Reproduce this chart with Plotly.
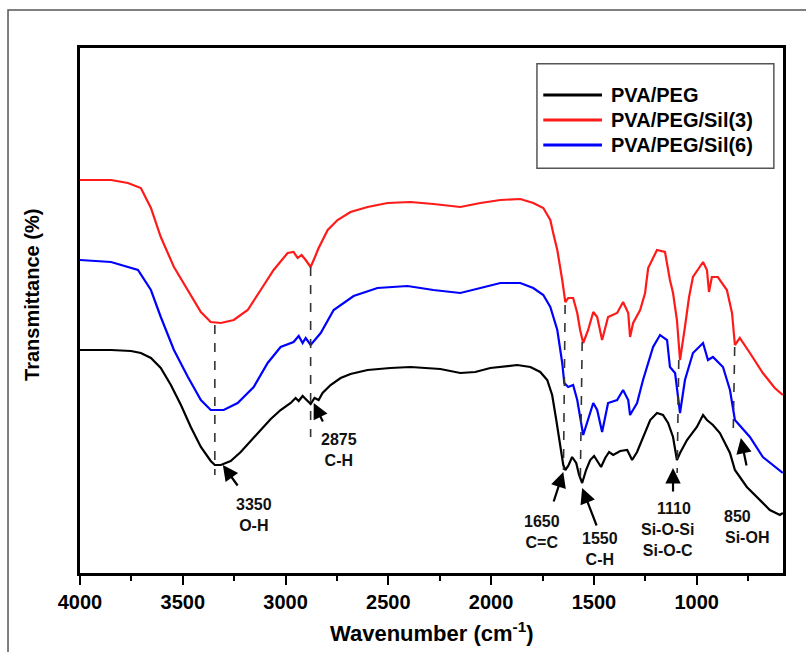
import plotly.graph_objects as go

# ---------------- data ----------------
wn_pva_peg = [4000, 3849, 3752, 3704, 3655, 3607, 3558, 3509, 3461, 3412, 3364, 3344, 3315, 3267, 3218,
              3169, 3121, 3072, 3024, 2975, 2951, 2936, 2917, 2897, 2878, 2859, 2839, 2820, 2781, 2732,
              2684, 2601, 2490, 2392, 2247, 2150, 2077, 2004, 1873, 1809, 1761, 1727, 1703, 1683, 1664,
              1649, 1639, 1625, 1606, 1586, 1572, 1557, 1538, 1518, 1499, 1479, 1465, 1445, 1426, 1406,
              1372, 1338, 1314, 1290, 1261, 1226, 1193, 1164, 1139, 1115, 1096, 1081, 1047, 999, 969,
              950, 921, 887, 838, 814, 756, 692, 644, 595, 581]
t_pva_peg = [44.6, 44.6, 44.4, 44.0, 43.0, 41.0, 37.6, 33.6, 29.2, 25.2, 22.4, 21.6, 21.6, 22.4, 24.2,
             26.4, 28.6, 30.8, 32.6, 34.0, 35.0, 34.4, 35.4, 34.6, 33.8, 35.0, 34.6, 36.0, 37.6, 39.0,
             39.8, 40.6, 41.0, 41.2, 40.8, 40.0, 40.2, 41.0, 41.6, 41.2, 40.2, 38.6, 35.6, 30.6, 25.0,
             21.6, 20.6, 21.4, 23.2, 22.0, 19.6, 18.0, 20.6, 22.6, 23.4, 22.2, 21.2, 23.0, 24.2, 23.6,
             24.4, 24.6, 22.6, 24.2, 27.2, 30.6, 32.0, 31.6, 30.0, 27.2, 22.6, 24.0, 26.6, 29.2, 31.6,
             30.6, 29.6, 28.0, 24.0, 20.6, 17.2, 14.6, 12.6, 11.6, 12.0]

wn_sil3 = [4000, 3849, 3767, 3704, 3655, 3607, 3543, 3475, 3412, 3364, 3315, 3252, 3184, 3121, 3058,
           2990, 2961, 2941, 2922, 2902, 2878, 2859, 2839, 2795, 2747, 2684, 2601, 2504, 2392, 2281,
           2150, 2052, 1955, 1858, 1795, 1746, 1712, 1698, 1678, 1654, 1639, 1625, 1601, 1581, 1567,
           1552, 1528, 1503, 1484, 1460, 1431, 1387, 1358, 1333, 1324, 1309, 1275, 1251, 1236, 1193,
           1154, 1130, 1115, 1096, 1081, 1057, 1037, 1018, 969, 950, 940, 926, 897, 853, 828,
           814, 790, 741, 678, 620, 581]
t_sil3 = [78.6, 78.6, 78.0, 77.0, 73.0, 67.2, 61.2, 56.6, 52.2, 50.2, 50.0, 50.6, 52.6, 56.6, 60.6,
          64.0, 64.2, 63.0, 63.6, 62.6, 61.2, 63.0, 65.0, 68.6, 70.6, 72.2, 73.2, 74.0, 74.2, 73.8,
          73.2, 74.0, 74.6, 74.8, 74.0, 73.0, 70.6, 68.0, 64.6, 58.6, 54.2, 55.0, 55.0, 52.0, 48.6,
          46.0, 48.6, 52.2, 51.2, 46.6, 51.2, 52.0, 54.2, 52.0, 47.2, 50.0, 52.6, 56.0, 61.0, 64.6,
          64.2, 58.6, 56.0, 50.6, 42.6, 49.2, 55.2, 59.2, 62.2, 60.6, 56.2, 59.2, 59.2, 56.6, 52.0,
          45.6, 47.0, 44.0, 40.0, 37.0, 35.6]

wn_sil6 = [4000, 3849, 3718, 3655, 3607, 3543, 3475, 3412, 3364, 3301, 3233, 3155, 3087, 3024, 2961,
           2936, 2917, 2902, 2878, 2829, 2766, 2669, 2553, 2407, 2281, 2150, 2052, 1955, 1858, 1795,
           1746, 1712, 1678, 1654, 1644, 1625, 1601, 1581, 1552, 1528, 1503, 1484, 1460, 1431, 1387,
           1358, 1333, 1324, 1290, 1261, 1212, 1178, 1144, 1130, 1105, 1081, 1057, 1018, 969, 945,
           921, 872, 838, 814, 780, 741, 678, 595, 581]
t_sil6 = [62.6, 62.2, 60.6, 56.6, 51.2, 44.6, 39.2, 34.6, 32.6, 32.6, 34.0, 37.2, 42.0, 45.2, 46.2,
          47.4, 46.0, 47.0, 45.6, 48.0, 52.6, 55.4, 57.0, 57.4, 56.6, 56.0, 57.0, 58.0, 58.0, 57.0,
          55.6, 53.2, 48.6, 42.0, 38.0, 37.2, 37.6, 34.6, 27.6, 30.6, 34.0, 32.6, 28.2, 34.0, 34.6,
          36.6, 34.6, 31.6, 34.0, 38.6, 45.2, 47.6, 46.6, 41.2, 40.0, 32.0, 38.6, 44.0, 46.0, 42.6,
          43.2, 41.2, 36.6, 30.6, 29.0, 27.2, 23.2, 20.6, 20.0]

series_names = ["PVA/PEG", "PVA/PEG/Sil(3)", "PVA/PEG/Sil(6)"]
series_colors = ["#000000", "#ff1a1a", "#0000ff"]
series_x = [wn_pva_peg, wn_sil3, wn_sil6]
series_y = [t_pva_peg, t_sil3, t_sil6]

x_tick_vals = [4000, 3500, 3000, 2500, 2000, 1500, 1000]
x_tick_text = ["4000", "3500", "3000", "2500", "2000", "1500", "1000"]

# dashed marker lines: (x_top, y_top, x_bottom, y_bottom)
band_lines = [(3344, 49.6, 3344, 19.6), (2878, 61.2, 2878, 27.2), (1640, 53.6, 1648, 20.6),
              (1557, 46.2, 1566, 18.6), (1087, 42.6, 1095, 20.0), (815, 45.2, 822, 28.6)]
# arrows: (head_x, head_y, tail_x, tail_y)
band_arrows = [(3305, 21.6, 3228, 17.2), (2863, 34.0, 2815, 30.0), (1649, 20.2, 1698, 14.0),
               (1557, 17.0, 1484, 9.2), (1115, 21.0, 1115, 16.0), (785, 27.0, 756, 21.2)]
# labels: (text, x, y)
band_labels = [("3350<br>O-H", 3155, 11.7),
               ("2875<br>C-H", 2742, 24.6),
               ("1650<br>C=C", 1753, 8.2),
               ("1550<br>C-H", 1472, 4.8),
               ("1110", 1110, 13.0), ("Si-O-Si<br>Si-O-C", 1144, 6.7),
               ("850", 799, 11.4), ("Si-OH", 756, 7.2)]

FONT = "Liberation Sans, Arial, sans-serif"

fig = go.Figure()
for name, col, xs, ys in zip(series_names, series_colors, series_x, series_y):
    fig.add_trace(go.Scatter(x=xs, y=ys, mode="lines", name=name,
                             line=dict(color=col, width=2.2), showlegend=False))

shapes = []
for x0, y0, x1, y1 in band_lines:
    shapes.append(dict(type="line", xref="x", yref="y", x0=x0, y0=y0, x1=x1, y1=y1,
                       line=dict(color="#333333", width=1.6, dash="dash")))

annotations = []
for hx, hy, tx, ty in band_arrows:
    annotations.append(dict(x=hx, y=hy, ax=tx, ay=ty, xref="x", yref="y", axref="x", ayref="y",
                            text="", showarrow=True, arrowhead=2, arrowsize=1.4, arrowwidth=2.2,
                            arrowcolor="#000000"))
for txt, x, y in band_labels:
    annotations.append(dict(x=x, y=y, xref="x", yref="y", text="<b>%s</b>" % txt, showarrow=False,
                            font=dict(family=FONT, size=16, color="#111111"),
                            xanchor="center", yanchor="middle"))

# custom legend (paper coordinates)
shapes.append(dict(type="rect", xref="paper", yref="paper", x0=0.650, x1=0.987, y0=0.771, y1=0.970,
                   line=dict(color="#555555", width=1.5), fillcolor="white", layer="above"))
leg_rows = [0.9105, 0.8629, 0.8152]
for name, col, yr in zip(series_names, series_colors, leg_rows):
    shapes.append(dict(type="line", xref="paper", yref="paper", x0=0.659, x1=0.7425, y0=yr, y1=yr,
                       line=dict(color=col, width=3), layer="above"))
    annotations.append(dict(x=0.7525, y=yr, xref="paper", yref="paper", text="<b>%s</b>" % name,
                            showarrow=False, xanchor="left", yanchor="middle",
                            font=dict(family=FONT, size=20, color="#000000")))

# outer picture frame
shapes.append(dict(type="rect", xref="paper", yref="paper", x0=-0.1024, x1=1.1, y0=-0.2, y1=1.0724,
                   line=dict(color="#555555", width=1.5), layer="below"))

# y axis title as annotation
annotations.append(dict(x=-0.068, y=0.53, xref="paper", yref="paper", text="<b>Transmittance (%)</b>",
                        showarrow=False, textangle=-90, xanchor="center", yanchor="middle",
                        font=dict(family=FONT, size=20, color="#000000")))
# x axis title
annotations.append(dict(x=0.5, y=-0.112, xref="paper", yref="paper",
                        text="<b>Wavenumber (cm<sup>-1</sup>)</b>", showarrow=False,
                        xanchor="center", yanchor="middle",
                        font=dict(family=FONT, size=22, color="#000000")))

fig.update_layout(
    width=806, height=652,
    margin=dict(l=80, r=23, t=48, b=79),
    paper_bgcolor="white", plot_bgcolor="white",
    shapes=shapes, annotations=annotations,
    showlegend=False,
)
fig.update_xaxes(range=[4000, 580], tickvals=x_tick_vals, ticktext=x_tick_text,
                 ticks="outside", ticklen=9, tickwidth=2.2, tickcolor="#000",
                 minor=dict(dtick=250, ticks="outside", ticklen=5, tickwidth=2, tickcolor="#000"),
                 showline=True, linewidth=2.8, linecolor="#000", mirror=True,
                 showgrid=False, zeroline=False,
                 tickfont=dict(family=FONT, size=20, color="#000", weight="bold"))
fig.update_yaxes(range=[0, 105], showticklabels=False, ticks="",
                 showline=True, linewidth=2.8, linecolor="#000", mirror=True,
                 showgrid=False, zeroline=False)

fig.write_html("out.html")
